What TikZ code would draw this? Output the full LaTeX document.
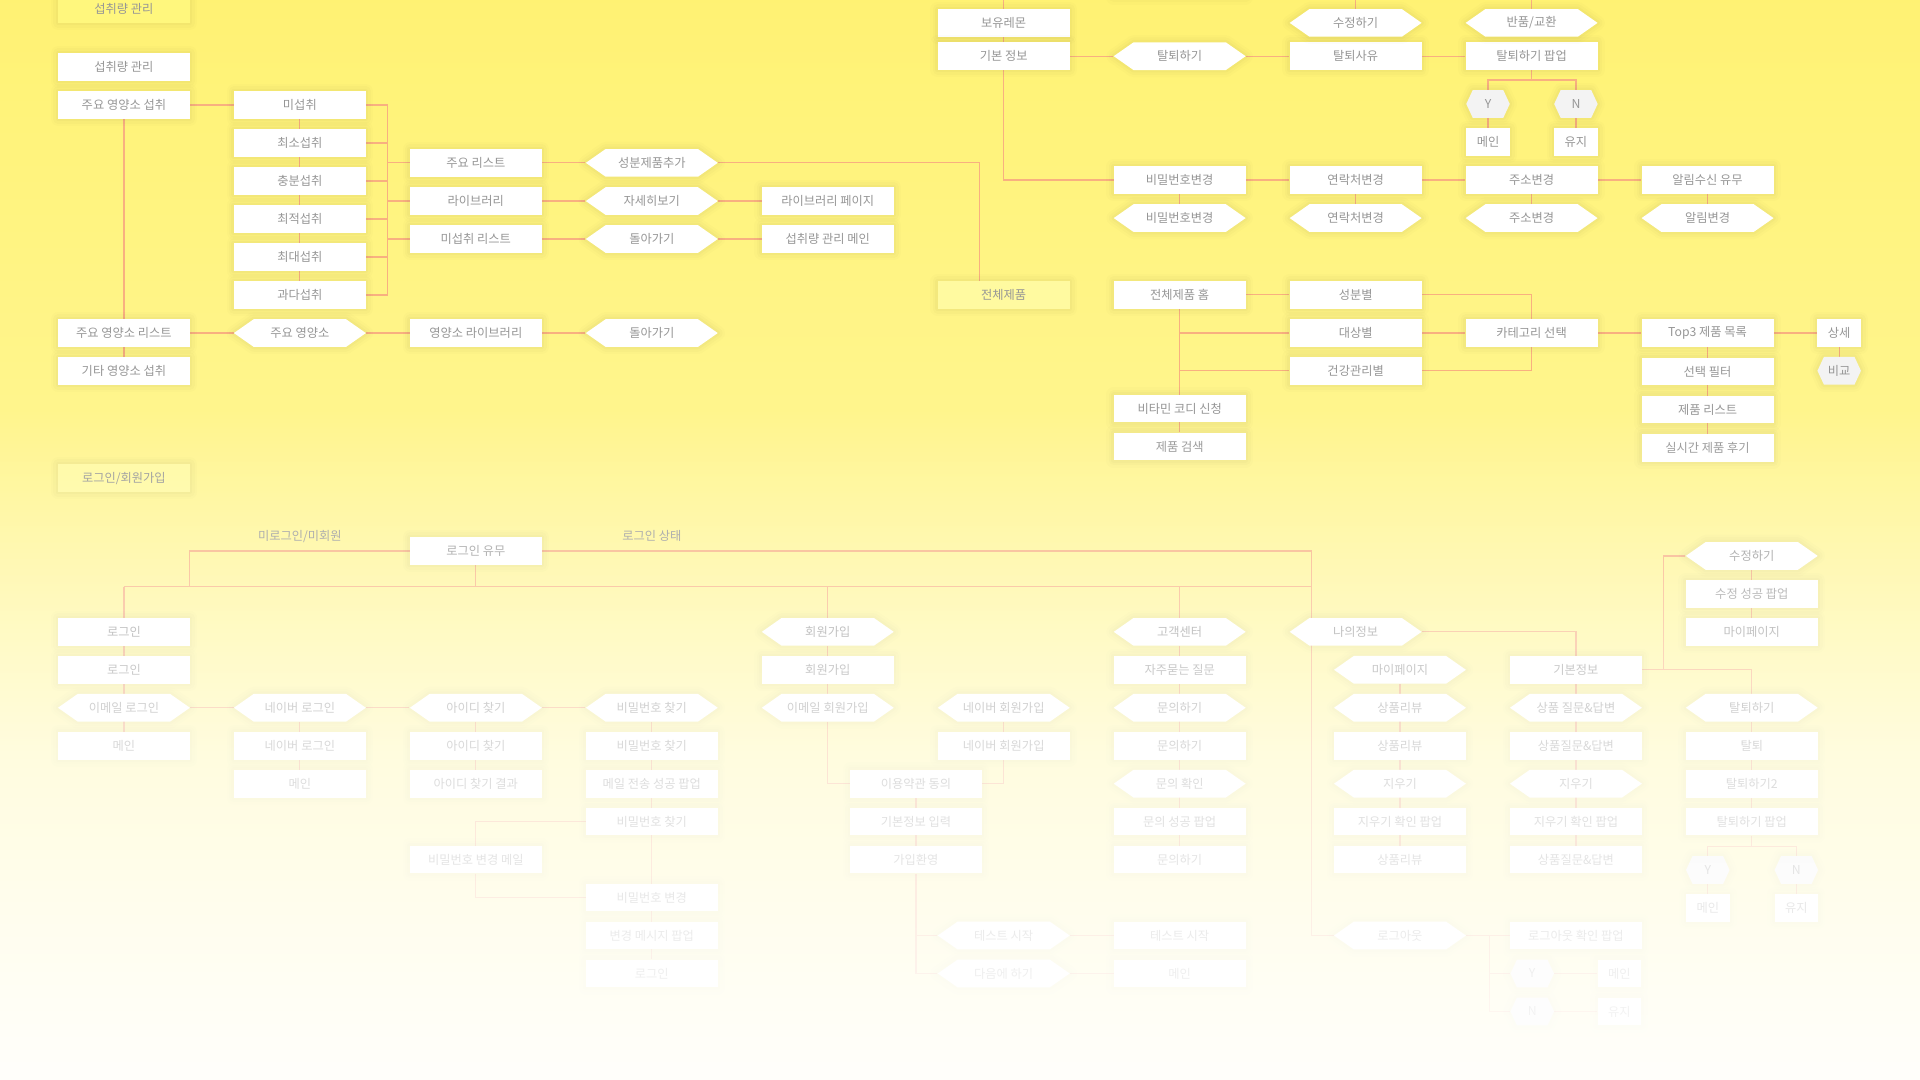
\documentclass[tikz,border=0pt]{standalone}
\usepackage{fontspec}
\setmainfont{Noto Sans CJK KR}
\usetikzlibrary{shapes.symbols,fadings}
\definecolor{ln}{RGB}{248,176,128}
\definecolor{tx}{RGB}{150,150,150}
\definecolor{bgtop}{RGB}{255,242,115}
\definecolor{bgbot}{RGB}{255,250,182}
\definecolor{sgray}{RGB}{243,243,243}
\definecolor{hdrA}{RGB}{255,247,125}
\definecolor{hdrB}{RGB}{255,250,160}
\newcommand{\mynf}{\fontsize{10pt}{12pt}\selectfont}
\pgfdeclarelayer{back}\pgfdeclarelayer{lines}\pgfdeclarelayer{front}
\pgfsetlayers{back,lines,main,front}
\tikzfading[name=fadeout, top color=transparent!100, bottom color=transparent!4, middle color=transparent!35]
\tikzset{
 halo/.style={preaction={draw=black, draw opacity=0.012, line width=12pt, line join=round},
              preaction={draw=black, draw opacity=0.015, line width=8pt, line join=round},
              preaction={draw=black, draw opacity=0.018, line width=4pt, line join=round}},
 bx/.style={rectangle, fill=white, minimum width=107.7pt, minimum height=22.6pt, inner sep=0pt, text=tx, font=\mynf, halo},
 hx/.style={signal, signal to=west and east, signal pointer angle=70, fill=white, minimum width=107.7pt, minimum height=22.6pt, inner sep=0pt, text=tx, font=\mynf, halo},
 sbx/.style={bx, minimum width=35.5pt},
 shx/.style={hx, fill=sgray, minimum width=35.5pt, signal pointer angle=130},
 hdr/.style={bx, fill=hdrB},
 lbl/.style={text=tx, font=\mynf, inner sep=0pt},
 cn/.style={draw=ln, line width=1pt},
}
\begin{document}
\begin{tikzpicture}[x=1pt,y=-1pt]
\useasboundingbox (0,0) rectangle (1568,882);
\begin{pgfonlayer}{back}
\shade[top color=bgtop, bottom color=bgbot] (-5,-5) rectangle (1575,890);
\end{pgfonlayer}
% ---------- 섭취량 관리 ----------
\node[hdr, fill=hdrA] (h1) at (101.2,7.2) {섭취량 관리};
\node[bx] (s0) at (101.2,54.8) {섭취량 관리};
\node[bx] (s1) at (101.2,85.7) {주요 영양소 섭취};
\node[bx] (s2) at (101.2,272) {주요 영양소 리스트};
\node[bx] (s3) at (101.2,303) {기타 영양소 섭취};
\node[bx] (m1) at (244.9,85.7) {미섭취};
\node[bx] (m2) at (244.9,116.7) {최소섭취};
\node[bx] (m3) at (244.9,147.8) {충분섭취};
\node[bx] (m4) at (244.9,178.8) {최적섭취};
\node[bx] (m5) at (244.9,209.9) {최대섭취};
\node[bx] (m6) at (244.9,241) {과다섭취};
\node[bx] (l1) at (388.6,133) {주요 리스트};
\node[bx] (l2) at (388.6,164.2) {라이브러리};
\node[bx] (l3) at (388.6,195.2) {미섭취 리스트};
\node[hx] (a1) at (532.3,133) {성분제품추가};
\node[hx] (a2) at (532.3,164.2) {자세히보기};
\node[hx] (a3) at (532.3,195.2) {돌아가기};
\node[bx] (p2) at (676,164.2) {라이브러리 페이지};
\node[bx] (p3) at (676,195.2) {섭취량 관리 메인};
\node[hx] (n1) at (244.9,272) {주요 영양소};
\node[bx] (n2) at (388.6,272) {영양소 라이브러리};
\node[hx] (n3) at (532.3,272) {돌아가기};
% ---------- 마이페이지 (top) ----------
\node[bx] (hid) at (963.4,-13.5) {};
\node[bx] (b1) at (819.7,18.7) {보유레몬};
\node[bx] (b2) at (819.7,45.9) {기본 정보};
\node[hx] (w1) at (963.4,45.9) {탈퇴하기};
\node[bx] (w2) at (1107.1,45.9) {탈퇴사유};
\node[bx] (w3) at (1250.8,45.9) {탈퇴하기 팝업};
\node[hx] (e1) at (1107.1,18.7) {수정하기};
\node[hx] (e2) at (1250.8,18.7) {반품/교환};
\node[shx] (y1) at (1215.2,84.9) {Y};
\node[shx] (y2) at (1287,84.9) {N};
\node[sbx] (y3) at (1215.2,115.9) {메인};
\node[sbx] (y4) at (1287,115.9) {유지};
\node[bx] (c1) at (963.4,147) {비밀번호변경};
\node[bx] (c2) at (1107.1,147) {연락처변경};
\node[bx] (c3) at (1250.8,147) {주소변경};
\node[bx] (c4) at (1394.5,147) {알림수신 유무};
\node[hx] (d1) at (963.4,178.1) {비밀번호변경};
\node[hx] (d2) at (1107.1,178.1) {연락처변경};
\node[hx] (d3) at (1250.8,178.1) {주소변경};
\node[hx] (d4) at (1394.5,178.1) {알림변경};
% ---------- 전체제품 ----------
\node[hdr] (h2) at (819.7,241) {전체제품};
\node[bx] (t0) at (963.4,240.8) {전체제품 홈};
\node[bx] (t1) at (1107.1,240.8) {성분별};
\node[bx] (t2) at (1107.1,272) {대상별};
\node[bx] (t3) at (1107.1,302.8) {건강관리별};
\node[bx] (t4) at (963.4,333.7) {비타민 코디 신청};
\node[bx] (t5) at (963.4,364.7) {제품 검색};
\node[bx] (k1) at (1250.8,272) {카테고리 선택};
\node[bx] (k2) at (1394.5,272) {Top3 제품 목록};
\node[sbx] (k3) at (1502,272) {상세};
\node[shx] (k4) at (1502,302.8) {비교};
\node[bx] (k5) at (1394.5,303.4) {선택 필터};
\node[bx] (k6) at (1394.5,334.5) {제품 리스트};
\node[bx] (k7) at (1394.5,365.6) {실시간 제품 후기};
% ---------- 로그인/회원가입 ----------
\node[hdr] (h3) at (101.2,390.5) {로그인/회원가입};
\node[lbl] (q1) at (244.9,438) {미로그인/미회원};
\node[lbl] (q2) at (532.3,437.5) {로그인 상태};
\node[bx] (lu) at (388.6,450) {로그인 유무};
\node[bx] (g1) at (101.2,516) {로그인};
\node[bx] (g2) at (101.2,547) {로그인};
\node[hx] (g3) at (101.2,578) {이메일 로그인};
\node[bx] (g4) at (101.2,609) {메인};
\node[hx] (v1) at (244.9,578) {네이버 로그인};
\node[bx] (v2) at (244.9,609) {네이버 로그인};
\node[bx] (v3) at (244.9,640) {메인};
\node[hx] (i1) at (388.6,578) {아이디 찾기};
\node[bx] (i2) at (388.6,609) {아이디 찾기};
\node[bx] (i3) at (388.6,640) {아이디 찾기 결과};
\node[bx] (i4) at (388.6,702) {비밀번호 변경 메일};
\node[hx] (f1) at (532.3,578) {비밀번호 찾기};
\node[bx] (f2) at (532.3,609) {비밀번호 찾기};
\node[bx] (f3) at (532.3,640) {메일 전송 성공 팝업};
\node[bx] (f4) at (532.3,671) {비밀번호 찾기};
\node[bx] (f5) at (532.3,733) {비밀번호 변경};
\node[bx] (f6) at (532.3,764) {변경 메시지 팝업};
\node[bx] (f7) at (532.3,795) {로그인};
\node[hx] (j1) at (676,516) {회원가입};
\node[bx] (j2) at (676,547) {회원가입};
\node[hx] (j3) at (676,578) {이메일 회원가입};
\node[hx] (j4) at (819.7,578) {네이버 회원가입};
\node[bx] (j5) at (819.7,609) {네이버 회원가입};
\node[bx] (j6) at (748,640) {이용약관 동의};
\node[bx] (j7) at (748,671) {기본정보 입력};
\node[bx] (j8) at (748,702) {가입환영};
\node[hx] (j9) at (819.7,764) {테스트 시작};
\node[hx] (j10) at (819.7,795) {다음에 하기};
\node[bx] (j11) at (963.4,764) {테스트 시작};
\node[bx] (j12) at (963.4,795) {메인};
\node[hx] (u1) at (963.4,516) {고객센터};
\node[bx] (u2) at (963.4,547) {자주묻는 질문};
\node[hx] (u3) at (963.4,578) {문의하기};
\node[bx] (u4) at (963.4,609) {문의하기};
\node[hx] (u5) at (963.4,640) {문의 확인};
\node[bx] (u6) at (963.4,671) {문의 성공 팝업};
\node[bx] (u7) at (963.4,702) {문의하기};
\node[hx] (o1) at (1107.1,516) {나의정보};
\node[hx] (o2) at (1143.3,547) {마이페이지};
\node[hx] (o3) at (1143.3,578) {상품리뷰};
\node[bx] (o4) at (1143.3,609) {상품리뷰};
\node[hx] (o5) at (1143.3,640) {지우기};
\node[bx] (o6) at (1143.3,671) {지우기 확인 팝업};
\node[bx] (o7) at (1143.3,702) {상품리뷰};
\node[bx] (r1) at (1287,547) {기본정보};
\node[hx] (r2) at (1287,578) {상품 질문\&답변};
\node[bx] (r3) at (1287,609) {상품질문\&답변};
\node[hx] (r4) at (1287,640) {지우기};
\node[bx] (r5) at (1287,671) {지우기 확인 팝업};
\node[bx] (r6) at (1287,702) {상품질문\&답변};
\node[hx] (x1) at (1430.6,454) {수정하기};
\node[bx] (x2) at (1430.6,485) {수정 성공 팝업};
\node[bx] (x3) at (1430.6,516) {마이페이지};
\node[hx] (x4) at (1430.6,578) {탈퇴하기};
\node[bx] (x5) at (1430.6,609) {탈퇴};
\node[bx] (x6) at (1430.6,640) {탈퇴하기2};
\node[bx] (x7) at (1430.6,671) {탈퇴하기 팝업};
\node[shx] (x8) at (1394.7,710.5) {Y};
\node[shx] (x9) at (1467,710.5) {N};
\node[sbx] (x10) at (1394.7,741.5) {메인};
\node[sbx] (x11) at (1467,741.5) {유지};
\node[hx] (z1) at (1143.3,764) {로그아웃};
\node[bx] (z2) at (1287,764) {로그아웃 확인 팝업};
\node[shx] (z3) at (1251.3,795) {Y};
\node[shx] (z4) at (1251.3,826) {N};
\node[sbx] (z5) at (1322.5,795) {메인};
\node[sbx] (z6) at (1322.5,826) {유지};
% ---------- helper coordinates ----------
\coordinate (brk) at (316.6,0);
\coordinate (top1) at (819.7,-3);
\coordinate (top2) at (1107.1,-3);
\coordinate (top3) at (1250.8,-3);
\coordinate (yj) at (1250.8,65.4);
\coordinate (jl) at (155,479);
\coordinate (jr) at (1071.3,764);
\coordinate (je) at (1358.6,547);
\coordinate (xj) at (1430.6,691);
\coordinate (zj) at (1216.5,764);
% ---------- connectors ----------
\begin{pgfonlayer}{lines}
\draw[cn] (s1.east) -- (m1.west);
\draw[cn] (s1.south) -- (s3.north);
\draw[cn] (m1.south) -- (m6.north);
\foreach \m in {m1,m2,m3,m4,m5,m6} \draw[cn] (\m.east) -- (\m.east -| brk);
\draw[cn] (m1.east -| brk) -- (m6.east -| brk);
\foreach \m in {l1,l2,l3} \draw[cn] (\m.west -| brk) -- (\m.west);
\draw[cn] (l1.east) -- (a1.west);
\draw[cn] (l2.east) -- (a2.west) (a2.east) -- (p2.west);
\draw[cn] (l3.east) -- (a3.west) (a3.east) -- (p3.west);
\draw[cn] (a1.east) -| ([xshift=-19.7pt]h2.north);
\draw[cn] (s2.east) -- (n1.west) (n1.east) -- (n2.west) (n2.east) -- (n3.west);
% top right
\draw[cn] (top1) |- (c1.west);
\draw[cn] (top2) -- (e1.north);
\draw[cn] (top3) -- (e2.north);
\draw[cn] (b2.east) -- (w1.west) (w1.east) -- (w2.west) (w2.east) -- (w3.west);
\draw[cn] (w3.south) -- (yj);
\draw[cn] (y1.north) |- (yj) -| (y2.north);
\draw[cn] (y1.south) -- (y3.north) (y2.south) -- (y4.north);
\draw[cn] (c1.east) -- (c2.west) (c2.east) -- (c3.west) (c3.east) -- (c4.west);
\draw[cn] (c1.south) -- (d1.north) (c2.south) -- (d2.north) (c3.south) -- (d3.north) (c4.south) -- (d4.north);
% products
\draw[cn] (t0.east) -- (t1.west);
\draw[cn] (t0.south) -- (t5.north);
\draw[cn] (t0.south |- t2.west) -- (t2.west);
\draw[cn] (t0.south |- t3.west) -- (t3.west);
\draw[cn] (t1.east) -| (k1.north);
\draw[cn] (t2.east) -- (k1.west);
\draw[cn] (t3.east) -| (k1.south);
\draw[cn] (k1.east) -- (k2.west);
\draw[cn] (k2.east) -- (k3.west);
\draw[cn] (k3.south) -- (k4.north);
\draw[cn] (k2.south) -- (k7.north);
% login
\draw[cn] (lu.west) -| (jl);
\draw[cn] (lu.south) -- (lu.south |- jl);
\draw[cn] (lu.east) -| (jr) -- (z1.west);
\draw[cn] (g1.north |- jl) -- (jr |- jl);
\draw[cn] (g1.north |- jl) -- (g1.north);
\draw[cn] (j1.north |- jl) -- (j1.north);
\draw[cn] (u1.north |- jl) -- (u1.north);
\draw[cn] (g1.south) -- (g4.north);
\draw[cn] (g3.east) -- (v1.west) (v1.east) -- (i1.west) (i1.east) -- (f1.west);
\draw[cn] (v1.south) -- (v3.north);
\draw[cn] (i1.south) -- (i3.north);
\draw[cn] (f1.south) -- (f7.north);
\draw[cn] (f4.west) -| (i4.north);
\draw[cn] (i4.south) |- (f5.west);
\draw[cn] (j1.south) -- (j3.north);
\draw[cn] (j3.south) |- (j6.west);
\draw[cn] (j4.south) -- (j5.north);
\draw[cn] (j5.south) |- (j6.east);
\draw[cn] (j6.south) -- (j8.north);
\draw[cn] (j8.south) |- (j10.west);
\draw[cn] (j8.south |- j9.west) -- (j9.west);
\draw[cn] (j9.east) -- (j11.west) (j10.east) -- (j12.west);
\draw[cn] (u1.south) -- (u7.north);
\draw[cn] (o1.east) -| (r1.north);
\draw[cn] (o2.south) -- (o7.north);
\draw[cn] (r1.south) -- (r6.north);
\draw[cn] (r1.east) -| (x4.north);
\draw[cn] (x1.west) -| (je);
\draw[cn] (x1.south) -- (x3.north);
\draw[cn] (x4.south) -- (x7.north);
\draw[cn] (x7.south) -- (xj);
\draw[cn] (x8.north) |- (xj) -| (x9.north);
\draw[cn] (x8.south) -- (x10.north) (x9.south) -- (x11.north);
\draw[cn] (z1.east) -- (z2.west);
\draw[cn] (zj) |- (z4.west);
\draw[cn] (zj |- z3.west) -- (z3.west);
\draw[cn] (z3.east) -- (z5.west) (z4.east) -- (z6.west);
\end{pgfonlayer}
\begin{pgfonlayer}{front}
\fill[white, path fading=fadeout] (-10,335) rectangle (1580,892);
\end{pgfonlayer}
\end{tikzpicture}
\end{document}
